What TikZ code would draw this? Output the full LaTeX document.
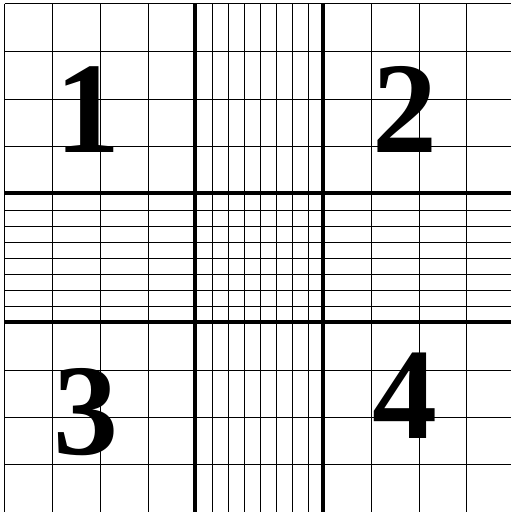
\documentclass[tikz,border=0pt]{standalone}
\usepackage{fontspec}
\setmainfont{Liberation Serif}
\begin{document}
\begin{tikzpicture}[x={(1pt,0)},y={(0,-1pt)},
  thinline/.style={line width=1.1pt,black},
  thickline/.style={line width=4pt,black},
  digit/.style={anchor=base,inner sep=0pt,font=\fontsize{130}{130}\selectfont\bfseries}]
\useasboundingbox (0,0) rectangle (511,512);
\fill[white] (0,0) rectangle (511,512);
\begin{scope}
\clip (0,0) rectangle (511,512);
% thin vertical lines
\foreach \x in {4.5,52.5,100.5,148.5,212.5,228.5,244.5,260.5,276.5,292.5,308.5,371.5,419.5,466.5}
  \draw[thinline] (\x,3.5) -- (\x,520);
% thin horizontal lines
\foreach \y in {3.5,51.5,99.5,146.5,210.5,226.5,242.5,258.5,274.5,290.5,306.5,370.5,417.5,464.5,512.3}
  \draw[thinline] (4.5,\y) -- (520,\y);
% thick lines
\draw[thickline] (195,3.5) -- (195,520);
\draw[thickline] (322.5,3.5) -- (322.5,520);
\draw[thickline] (4.5,193.3) -- (520,193.3);
\draw[thickline] (4.5,322) -- (520,322);
\end{scope}
\node[digit] (d1) at (87.5,152) {1};
\node[digit] (d2) at (404.5,152) {2};
\node[digit] (d3) at (86,454) {3};
\node[digit] (d4) at (404.5,438) {4};
\end{tikzpicture}
\end{document}
